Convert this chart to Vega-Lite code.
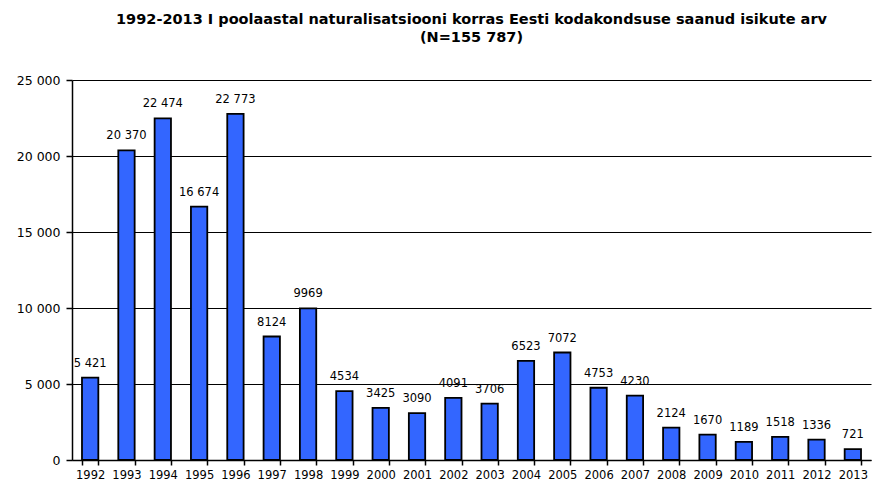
{
  "$schema": "https://vega.github.io/schema/vega-lite/v6.json",
  "autosize": "none",
  "width": 799,
  "height": 380,
  "padding": {"left": 72, "top": 80, "right": 4, "bottom": 24},
  "background": "white",
  "title": {
    "text": ["1992-2013 I poolaastal naturalisatsiooni korras Eesti kodakondsuse saanud isikute arv", "(N=155 787)"],
    "font": "DejaVu Sans",
    "fontSize": 14.5,
    "fontWeight": "bold",
    "color": "black",
    "anchor": "middle",
    "lineHeight": 18,
    "offset": 29
  },
  "config": {
    "view": {"stroke": null},
    "axis": {"labelFont": "DejaVu Sans", "labelColor": "black", "domainColor": "black", "tickColor": "black"}
  },
  "data": {
    "values": [
      {"year": "1992", "value": 5421, "label": "5 421"},
      {"year": "1993", "value": 20370, "label": "20 370"},
      {"year": "1994", "value": 22474, "label": "22 474"},
      {"year": "1995", "value": 16674, "label": "16 674"},
      {"year": "1996", "value": 22773, "label": "22 773"},
      {"year": "1997", "value": 8124, "label": "8124"},
      {"year": "1998", "value": 9969, "label": "9969"},
      {"year": "1999", "value": 4534, "label": "4534"},
      {"year": "2000", "value": 3425, "label": "3425"},
      {"year": "2001", "value": 3090, "label": "3090"},
      {"year": "2002", "value": 4091, "label": "4091"},
      {"year": "2003", "value": 3706, "label": "3706"},
      {"year": "2004", "value": 6523, "label": "6523"},
      {"year": "2005", "value": 7072, "label": "7072"},
      {"year": "2006", "value": 4753, "label": "4753"},
      {"year": "2007", "value": 4230, "label": "4230"},
      {"year": "2008", "value": 2124, "label": "2124"},
      {"year": "2009", "value": 1670, "label": "1670"},
      {"year": "2010", "value": 1189, "label": "1189"},
      {"year": "2011", "value": 1518, "label": "1518"},
      {"year": "2012", "value": 1336, "label": "1336"},
      {"year": "2013", "value": 721, "label": "721"}
    ]
  },
  "encoding": {
    "x": {
      "field": "year",
      "type": "ordinal",
      "scale": {"paddingInner": 0.55, "paddingOuter": 0.275},
      "axis": {
        "title": null,
        "labelAngle": 0,
        "labelFontSize": 11.5,
        "tickBand": "extent",
        "tickSize": 5,
        "labelPadding": 4,
        "domainWidth": 1.5,
        "tickWidth": 1.5
      }
    },
    "y": {
      "field": "value",
      "type": "quantitative",
      "scale": {"domain": [0, 25000], "nice": false},
      "axis": {
        "title": null,
        "values": [0, 5000, 10000, 15000, 20000, 25000],
        "labelExpr": "replace(format(datum.value, ','), ',', ' ')",
        "labelFontSize": 12.5,
        "grid": true,
        "gridColor": "black",
        "gridWidth": 1.2,
        "gridOpacity": 1,
        "tickSize": 6,
        "labelPadding": 6,
        "domainWidth": 1.5,
        "tickWidth": 1.5
      }
    }
  },
  "layer": [
    {
      "mark": {"type": "bar", "color": "#3366ff", "stroke": "black", "strokeWidth": 1.8}
    },
    {
      "mark": {"type": "text", "font": "DejaVu Sans", "fontSize": 11.5, "baseline": "alphabetic", "dy": -11, "color": "black"},
      "encoding": {"text": {"field": "label"}}
    }
  ]
}
